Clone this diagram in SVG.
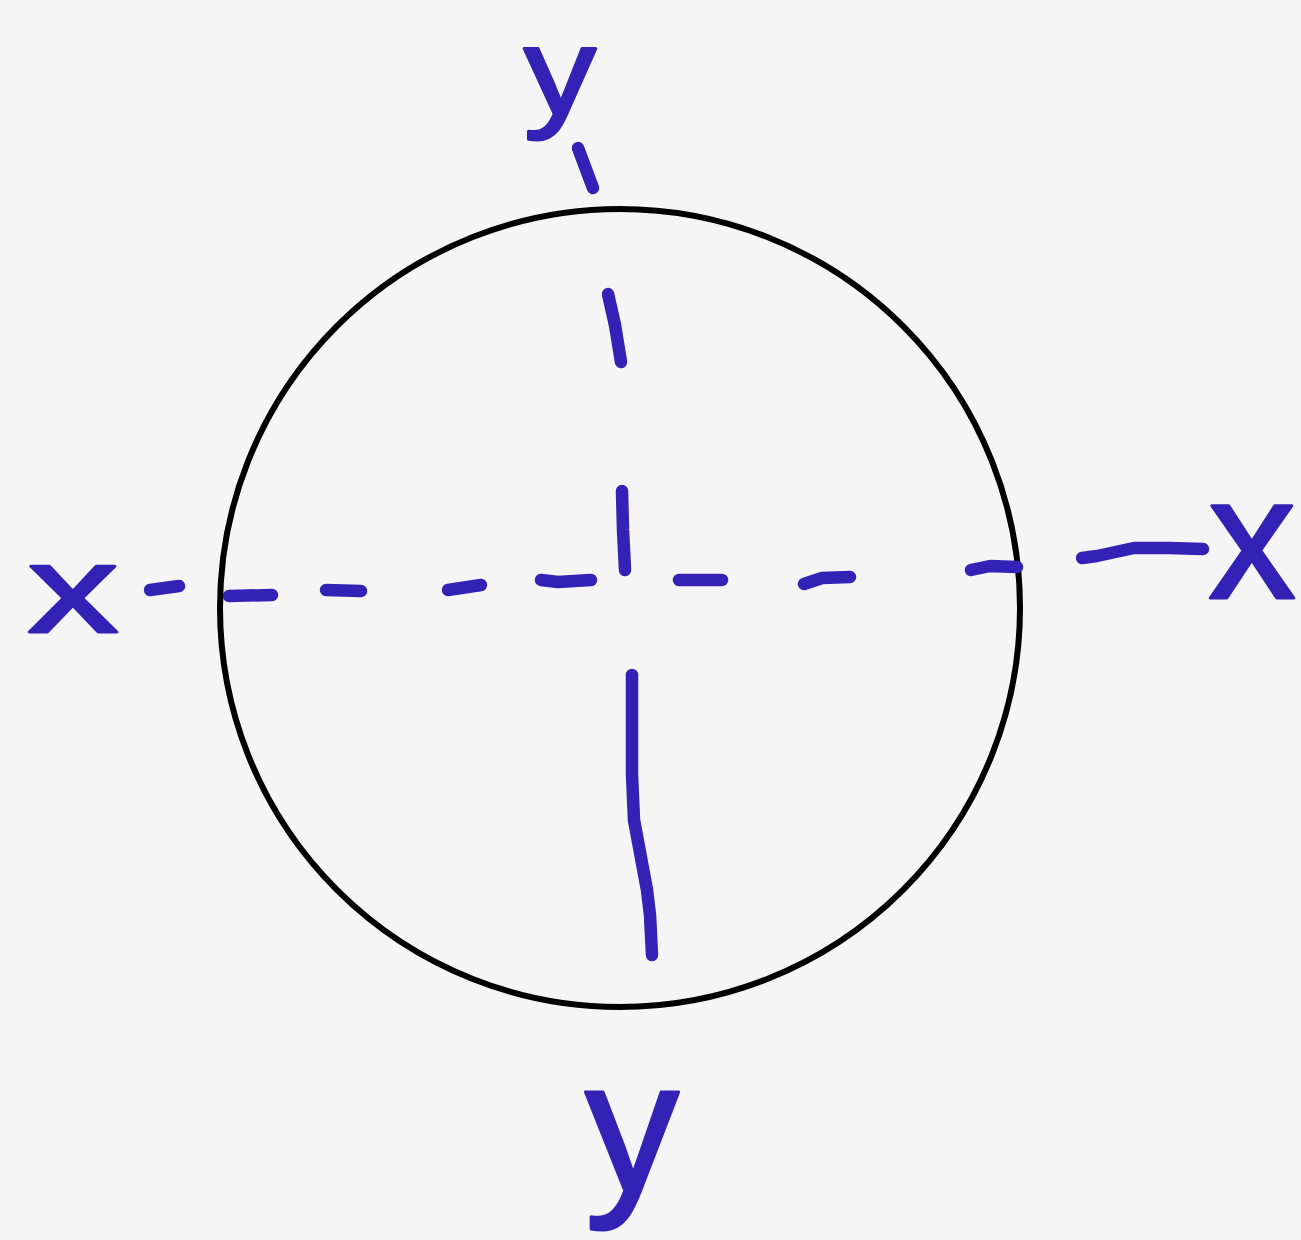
<svg xmlns="http://www.w3.org/2000/svg" width="1301" height="1240" viewBox="0 0 1301 1240">
<style>
.bg{fill:#f5f5f5}
.circ{fill:none;stroke:#000;stroke-width:6}
.ax{fill:none;stroke:#3421B5;stroke-width:12.5;stroke-linecap:round;stroke-linejoin:round}
.lbl{font-family:"Liberation Sans",Arial,sans-serif;fill:#3421B5;stroke:#3421B5;stroke-width:3;stroke-linejoin:round}
</style>
<rect class="bg" x="0" y="0" width="1301" height="1240"/>
<g id="circle">
<ellipse class="circ" cx="620" cy="608" rx="400" ry="399"/>
</g>
<g id="axes">
<path class="ax" d="M150,590 L179,586"/>
<path class="ax" d="M229,596 L272,595"/>
<path class="ax" d="M326,590 L361,591"/>
<path class="ax" d="M448,590 L481,585"/>
<path class="ax" d="M541,580 L558,582 L591,580"/>
<path class="ax" d="M679,580 L722,580"/>
<path class="ax" d="M804,584 L822,578 L850,577"/>
<path class="ax" d="M971,570 L990,566 L1017,567"/>
<path class="ax" d="M1082,558 L1097,556 L1134,548 L1169,548 L1203,549"/>
<path class="ax" d="M578,148 L587,172 L593,188"/>
<path class="ax" d="M608,294 L615,325 L621,362"/>
<path class="ax" d="M622,491 L623,530 L625,570"/>
<path class="ax" d="M632,675 L632,775 L634,820 L647,890 L650,915 L652,955"/>
</g>
<g id="label-y-top"><text class="lbl" x="0" y="0" font-size="125" text-anchor="middle" transform="translate(560,114) scale(1.15,1)">y</text></g>
<g id="label-x-left"><text class="lbl" x="0" y="0" font-size="125" text-anchor="middle" transform="translate(73,632) scale(1.45,1)">x</text></g>
<g id="label-x-right"><text class="lbl" x="0" y="0" font-size="175" text-anchor="middle" transform="translate(1252,598)">x</text></g>
<g id="label-y-bottom"><text class="lbl" x="632" y="1191" font-size="188" text-anchor="middle">y</text></g>
</svg>
